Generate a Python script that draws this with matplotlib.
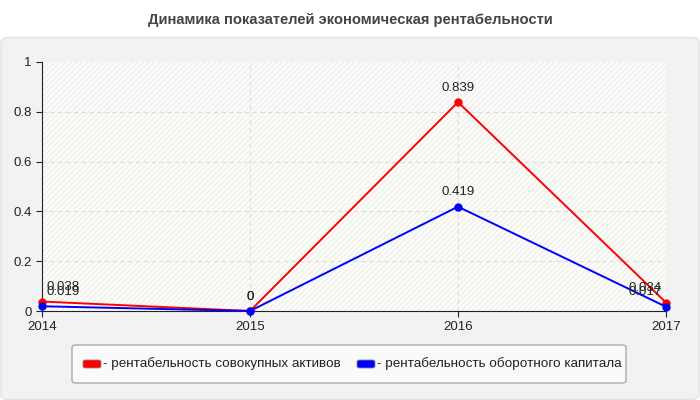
import matplotlib
matplotlib.use("Agg")
import matplotlib.pyplot as plt
from matplotlib.patches import FancyBboxPatch, Rectangle

years = ["2014", "2015", "2016", "2017"]
assets = [0.038, 0.0, 0.839, 0.034]
capital = [0.019, 0.0, 0.419, 0.017]
labels = ["- рентабельность совокупных активов", "- рентабельность оборотного капитала"]
title = "Динамика показателей экономическая рентабельности"

W, H = 700, 400
fig = plt.figure(figsize=(W / 100, H / 100), dpi=100)
fig.patch.set_facecolor("white")
plt.rcParams["font.family"] = ["Liberation Sans", "DejaVu Sans"]

# panel background
panel = FancyBboxPatch((1 / W, 0.5 / H), 698 / W, (400 - 38) / H,
                       boxstyle="round,pad=0,rounding_size=0.012",
                       transform=fig.transFigure, facecolor="#f2f2f2",
                       edgecolor="#e2e2e2", linewidth=1, zorder=-5)
fig.patches.append(panel)

fig.text(350 / W, 1 - 20 / H, title, ha="center", va="center",
         fontsize=10.6, fontweight="bold", color="#444444")

left, right, top, bottom = 42, 666, 62, 311
ax = fig.add_axes([left / W, 1 - bottom / H, (right - left) / W, (bottom - top) / H])
ax.set_zorder(1)
ax.set_facecolor("#fdfdf8")
x = list(range(len(years)))
ax.set_xlim(0, 3)
ax.set_ylim(0, 1)
ax.add_patch(Rectangle((0, 0.8), 3, 0.2, facecolor="#fbfbfb", edgecolor="none", zorder=0))
ax.add_patch(Rectangle((0, 0), 3, 1, facecolor="none", edgecolor="#efefef",
                       hatch="//////", linewidth=0, zorder=0.5))

for yv in [0.2, 0.4, 0.6, 0.8]:
    ax.axhline(yv, color="#dddddd", linestyle=(0, (4, 3)), linewidth=0.8, zorder=1)
for xv in [1, 2]:
    ax.axvline(xv, color="#dddddd", linestyle=(0, (4, 3)), linewidth=0.8, zorder=1)

ax.plot(x, assets, color="#ff0000", linewidth=1.4, marker="o", markersize=5, zorder=3, clip_on=False)
ax.plot(x, capital, color="#0000ff", linewidth=1.4, marker="o", markersize=5, zorder=4, clip_on=False)

def place(xi):
    if xi == 0:
        return "left", 3
    if xi == len(years) - 1:
        return "right", -3
    return "center", 0

for series in (assets, capital):
    for xi, v in zip(x, series):
        ha, dx = place(xi)
        ax.annotate(f"{v:g}", (xi, v), xytext=(dx, 6), textcoords="offset points",
                    ha=ha, va="bottom", fontsize=9.5, color="#222222", zorder=5,
                    annotation_clip=False)

ax.set_xticks(x)
ax.set_xticklabels(years)
ax.set_yticks([0, 0.2, 0.4, 0.6, 0.8, 1])
ax.set_yticklabels(["0", "0.2", "0.4", "0.6", "0.8", "1"])
ax.tick_params(axis="both", labelsize=9.5, colors="#222222", length=4, width=0.8, direction="out")
for s in ["top", "right"]:
    ax.spines[s].set_visible(False)
ax.spines["left"].set_color("#222222")
ax.spines["bottom"].set_color("#222222")
ax.spines["left"].set_linewidth(0.8)
ax.spines["bottom"].set_linewidth(0.8)

# legend box
lg = FancyBboxPatch((72 / W, 1 - 383 / H), (626 - 72) / W, (383 - 345) / H,
                    boxstyle="round,pad=0,rounding_size=0.006",
                    transform=fig.transFigure, facecolor="#fafafa",
                    edgecolor="#aaaaaa", linewidth=1, zorder=2)
fig.patches.append(lg)
ly = 1 - 364 / H
for xs, col, lab in [(83, "#ff0000", labels[0]), (357, "#0000ff", labels[1])]:
    fig.patches.append(FancyBboxPatch((xs / W, ly - 4 / H), 18 / W, 8 / H,
                                      boxstyle="round,pad=0,rounding_size=0.004",
                                      transform=fig.transFigure, facecolor=col,
                                      edgecolor="#888888", linewidth=0.6, zorder=3))
    fig.text((xs + 20) / W, ly, lab, ha="left", va="center", fontsize=9.7, color="#222222", zorder=4)

fig.savefig("out.png", dpi=100, facecolor=fig.get_facecolor())
